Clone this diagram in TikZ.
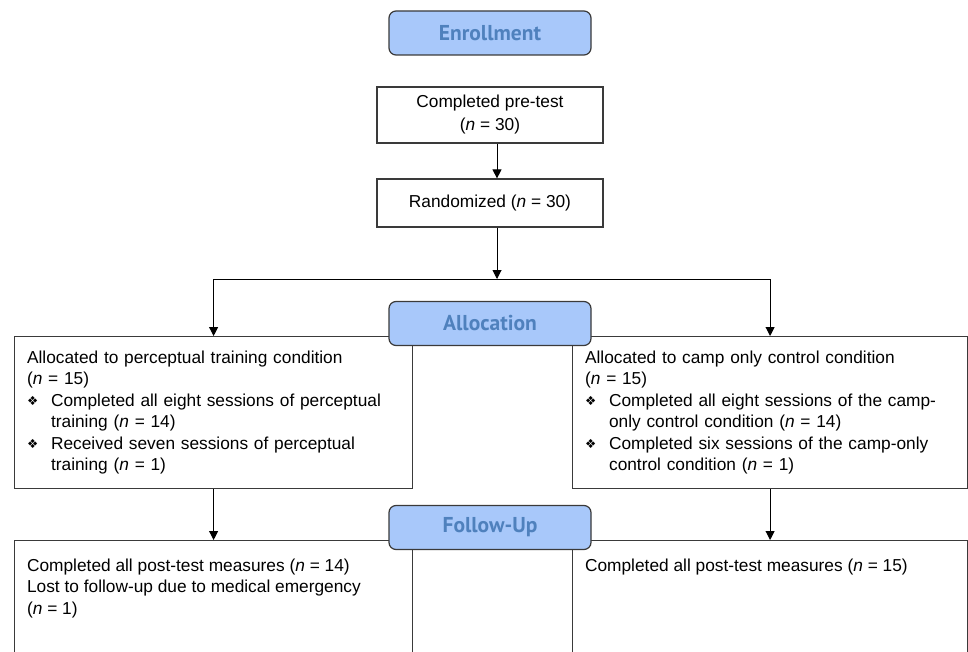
\documentclass[tikz,border=0pt]{standalone}
\usepackage{fontspec}
\setmainfont{Liberation Sans}
\newfontfamily\phasefamily{PT Sans}
\newfontfamily\symbolfamily{DejaVu Sans}
\usetikzlibrary{arrows.meta, positioning, calc}
\definecolor{phasefill}{HTML}{A8C8FA}
\definecolor{phasetext}{HTML}{4F81BD}
\definecolor{boxline}{HTML}{3A3A3A}
\newcommand{\bodysize}{\fontsize{17.3}{21.4}\selectfont}
\newcommand{\bul}{\makebox[24pt][l]{\symbolfamily\fontsize{12.5}{12.5}\selectfont\raisebox{0.5pt}{❖}}}
\newcommand{\bulitem}[1]{\par\hangindent=24pt\hangafter=1\bul #1\par}

\begin{document}
\begin{tikzpicture}[x=1pt, y=-1pt,
  phase/.style={draw=boxline, line width=1.2pt, rounded corners=7pt, fill=phasefill,
    text=phasetext, font=\phasefamily\bfseries\fontsize{21.5}{24}\selectfont,
    minimum width=202pt, minimum height=44pt},
  stepbox/.style={draw=boxline, line width=1.2pt, fill=white, align=center,
    font=\fontsize{17.3}{23}\selectfont, minimum width=226pt},
  groupbox/.style={draw=boxline, line width=1.2pt, fill=white, anchor=north west,
    align=left, font=\bodysize, inner xsep=12.5pt, minimum height=152pt},
  postbox/.style={draw=boxline, line width=1.2pt, fill=white, anchor=north west,
    inner xsep=12.5pt, inner ysep=16pt},
  arr/.style={line width=1pt, draw=black, -{Triangle[width=9pt,length=9pt]}}]
  \clip (0,0) rectangle (968,652);

  % Enrollment
  \node[phase] (enroll) at (490,33) {Enrollment};
  \node[stepbox, minimum height=56pt] (pretest) at (490,115)
    {Completed pre-test\\(\textit{n} = 30)};
  \node[stepbox, minimum height=48pt] (random) at (490,203)
    {Randomized (\textit{n} = 30)};

  % Allocation
  \node[groupbox, text width=373pt] (train) at (14,336) {%
    Allocated to perceptual training condition\par
    (\textit{n} = 15)
    \bulitem{Completed all eight sessions of perceptual\newline training (\textit{n} = 14)}
    \bulitem{Received seven sessions of perceptual\newline training (\textit{n} = 1)}};
  \node[groupbox, text width=370pt] (camp) at (572,336) {%
    Allocated to camp only control condition\par
    (\textit{n} = 15)
    \bulitem{Completed all eight sessions of the camp-\newline only control condition (\textit{n} = 14)}
    \bulitem{Completed six sessions of the camp-only\newline control condition (\textit{n} = 1)}};
  \node[phase] (alloc) at (490,323.5) {Allocation};

  % Follow-up
  \node[postbox] (post-l) at (14,540) {\parbox[b][126pt][t]{373pt}{\raggedright\bodysize
    \strut Completed all post-test measures (\textit{n} = 14)\\
    Lost to follow-up due to medical emergency\\
    (\textit{n} = 1)}};
  \node[postbox] (post-r) at (572,540) {\parbox[b][126pt][t]{370pt}{\raggedright\bodysize
    \strut Completed all post-test measures (\textit{n} = 15)}};
  \node[phase] (follow) at (490,527.5) {Follow-Up};

  % Connectors
  \coordinate (split) at (497,279);
  \draw[arr] (pretest.south -| split) -- (random.north -| split);
  \draw[arr] (random.south -| split) -- (split);
  \draw[line width=1pt] (train.north |- split) -- (camp.north |- split);
  \draw[arr] (train.north |- split) -- (train.north);
  \draw[arr] (camp.north |- split) -- (camp.north);
  \draw[arr] (train.south) -- (post-l.north -| train.south);
  \draw[arr] (camp.south) -- (post-r.north -| camp.south);
\end{tikzpicture}
\end{document}
